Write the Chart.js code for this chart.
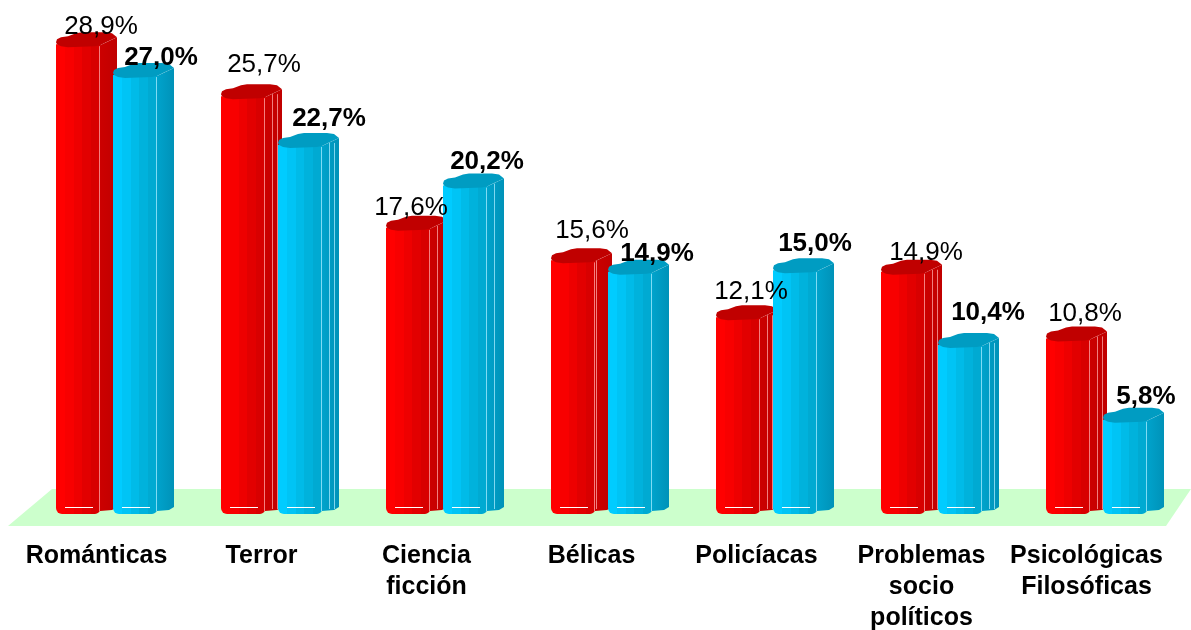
<!DOCTYPE html>
<html><head><meta charset="utf-8">
<style>html,body{margin:0;padding:0;background:#fff}canvas{display:block}</style>
<script src="https://cdn.jsdelivr.net/npm/chart.js@4"></script>
</head><body><canvas id="c" width="1191" height="630"></canvas>
<script>
const categories = [["Románticas"],["Terror"],["Ciencia","ficción"],["Bélicas"],["Policíacas"],["Problemas","socio","políticos"],["Psicológicas","Filosóficas"]];
const seriesRed = [28.9,25.7,17.6,15.6,12.1,14.9,10.8];
const seriesBlue = [27.0,22.7,20.2,14.9,15.0,10.4,5.8];
const redLabelDx = [23,21,3,19,13,23,17];
const redLabelDy = [-18,-32,-21,-31,-26,-20,-26];
const blueLabelDx = [26,29,22,27,20,28,21];
const blueLabelDy = [-18,-27,-25,-19,-27,-33,-24];
const redSideExtra = [[],[7,12],[7],[1],[7,12],[7,12],[7,12]];
const blueSideExtra = [[],[7,12],[7],[],[],[7,12],[]];
const FONT = '"Liberation Sans", Arial, sans-serif';
const CAT_PCT = 114/165, BAR_PCT = 44/57;
const palette = {
  red:{front:['#ff0000','#f80000','#ee0000','#e20000','#d80000'],side:['#cc0000','#c00000'],top:'#c00000',edge:'rgba(255,170,170,.75)'},
  blue:{front:['#00ccff','#00c4f5','#00bbe8','#00b2dc','#00aad2'],side:['#00a3cc','#0092b8'],top:'#009cc2',edge:'rgba(170,235,255,.75)'}
};
function frontFill(ctx, pal, sign){
  const s = ctx.chart.scales && ctx.chart.scales.x;
  if(!s || !s.width) return pal.front[0];
  const pitch = s.width/categories.length*CAT_PCT/2, w = pitch*BAR_PCT;
  const cx = s.getPixelForValue(ctx.dataIndex)+sign*pitch/2;
  const g = ctx.chart.ctx.createLinearGradient(cx-w/2,0,cx+w/2,0);
  const n = pal.front.length;
  pal.front.forEach((col,i)=>{g.addColorStop(i/n,col);g.addColorStop((i+1)/n,col);});
  return g;
}
function poly(c,pts,fill){c.beginPath();pts.forEach((p,i)=>i?c.lineTo(p[0],p[1]):c.moveTo(p[0],p[1]));c.closePath();c.fillStyle=fill;c.fill();}
function drawSide(chart,k){
  const c=chart.ctx,meta=chart.getDatasetMeta(k),pal=k===0?palette.red:palette.blue;
  const extra=k===0?redSideExtra:blueSideExtra;
  meta.data.forEach((el,i)=>{
    const xf=el.x+el.width/2,y=el.y,b=el.base,r=xf+17;
    const g=c.createLinearGradient(xf,0,r,0);
    g.addColorStop(0,pal.side[0]);g.addColorStop(1,pal.side[1]);
    poly(c,[[xf-7,b],[xf,y+1],[r,y-7],[r,b-7],[r-5,b-4],[xf,b-3],[xf-7,b]],g);
    c.save();c.strokeStyle=pal.edge;c.lineWidth=1;
    extra[i].forEach(d=>{c.beginPath();c.moveTo(xf+d+.5,y-2);c.lineTo(xf+d+.5,b-5);c.stroke();});
    c.restore();
  });
}
function drawCap(chart,k){
  const c=chart.ctx,meta=chart.getDatasetMeta(k),pal=k===0?palette.red:palette.blue;
  meta.data.forEach(el=>{
    const x0=el.x-el.width/2,xf=x0+el.width,y=el.y,b=el.base,r=xf+17;
    poly(c,[[x0,y-2],[x0+1,y-5],[x0+5,y-7],[x0+12,y-8],[x0+20,y-11],[x0+26,y-12],[r-12,y-12],[r-5,y-11],[r,y-7],
            [xf+6,y-2],[xf,y+1],[xf-5,y+2],[x0+12,y+3],[x0+5,y+2],[x0+1,y]],pal.top);
    c.save();c.lineWidth=1;c.strokeStyle=pal.edge;
    c.beginPath();c.moveTo(xf-.5,y+2);c.lineTo(xf-.5,b-3);c.stroke();
    c.strokeStyle='#ffffff';
    c.beginPath();c.moveTo(x0+9,b-6.5);c.lineTo(x0+37,b-6.5);c.stroke();
    c.restore();
  });
}
const prism = {
  id:'prism',
  beforeDatasetsDraw(chart){
    const c=chart.ctx,b=chart.chartArea.bottom;
    poly(c,[[8,b+12],[52,b-25],[1191,b-25],[1166,b+12]],'#ccffcc');
  },
  beforeDatasetDraw(chart,args){
    if(args.index===1) return false;   // blue is painted after red, so that it overlaps red's side
    drawSide(chart,0);
  },
  afterDatasetDraw(chart,args){
    if(args.index!==0) return;
    drawCap(chart,0);
    drawSide(chart,1);
    chart.getDatasetMeta(1).controller.draw();
    drawCap(chart,1);
  },
  afterDatasetsDraw(chart){
    const c=chart.ctx;
    c.save();c.textAlign='center';c.textBaseline='middle';c.fillStyle='#000';
    [[0,seriesRed,redLabelDx,redLabelDy,'26px '],[1,seriesBlue,blueLabelDx,blueLabelDy,'bold 26px ']].forEach(([k,vals,dx,dy,f])=>{
      c.font=f+FONT;
      chart.getDatasetMeta(k).data.forEach((el,i)=>{
        c.fillText(vals[i].toFixed(1).replace('.',',')+'%',el.x+dx[i],el.y+dy[i]+1);
      });
    });
    c.restore();
  }
};
const radius={topLeft:0,topRight:0,bottomLeft:6,bottomRight:5};
new Chart(document.getElementById('c'),{
  type:'bar',
  data:{labels:categories,datasets:[
    {label:'A',data:seriesRed,backgroundColor:ctx=>frontFill(ctx,palette.red,-1),borderSkipped:false,borderWidth:0,borderRadius:radius},
    {label:'B',data:seriesBlue,backgroundColor:ctx=>frontFill(ctx,palette.blue,1),borderSkipped:false,borderWidth:0,borderRadius:radius}
  ]},
  plugins:[prism],
  options:{
    responsive:false,animation:false,
    layout:{padding:{left:24,right:12,top:10,bottom:0}},
    datasets:{bar:{categoryPercentage:CAT_PCT,barPercentage:BAR_PCT}},
    plugins:{legend:{display:false},tooltip:{enabled:false},title:{display:false}},
    scales:{
      y:{display:false,min:0,max:31},
      x:{
        afterFit(s){s.height=116;s.paddingLeft=0;s.paddingRight=0;},
        grid:{display:false,drawTicks:false},border:{display:false},
        ticks:{autoSkip:false,maxRotation:0,minRotation:0,padding:27,labelOffset:-10,color:'#000',
          font:{family:FONT,size:25,weight:'bold',lineHeight:1.24}}
      }
    }
  }
});
</script></body></html>
